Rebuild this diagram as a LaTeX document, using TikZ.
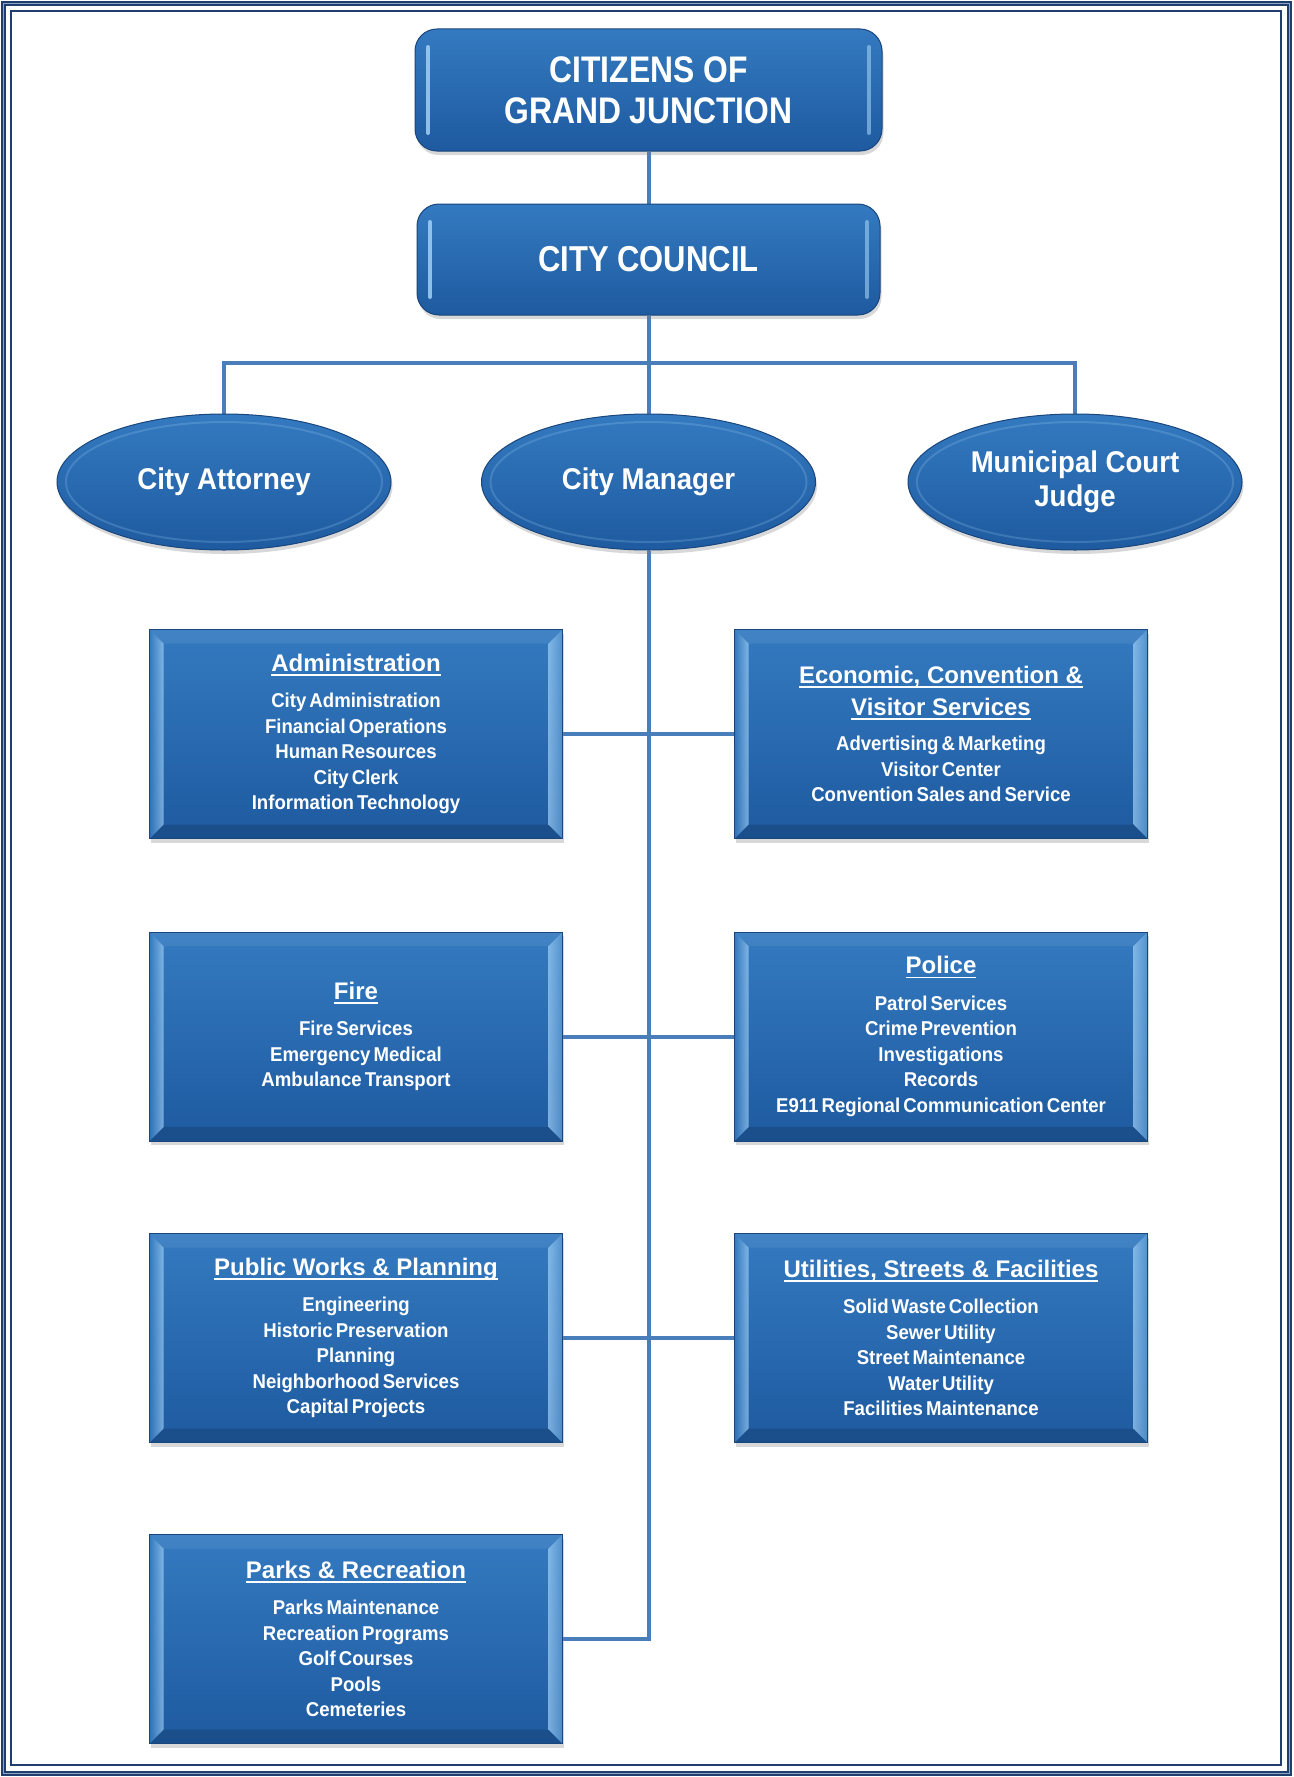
\documentclass[tikz,border=0pt]{standalone}
\usepackage{fontspec}
\setmainfont{Liberation Sans}
\newfontfamily\titlefont{Liberation Sans}[FakeStretch=0.86]
\newfontfamily\headfont{Liberation Sans}
\newfontfamily\ovalfont{Liberation Sans}[FakeStretch=0.92]
\newfontfamily\bodyfont{Liberation Sans}[FakeStretch=0.93,WordSpace=0.6]
\usetikzlibrary{shapes.geometric,shadows}
\pgfdeclarelayer{background}
\pgfsetlayers{background,main}
\definecolor{frameblue}{RGB}{31,62,110}
\definecolor{framelight}{RGB}{140,165,200}
\definecolor{boxtop}{RGB}{52,122,192}
\definecolor{boxbot}{RGB}{30,90,160}
\definecolor{boxedge}{RGB}{25,70,125}
\definecolor{bevlight}{RGB}{160,208,245}
\definecolor{linkblue}{RGB}{74,126,187}
\newsavebox\ulbox
\newcommand\ulhead[1]{\sbox\ulbox{#1}\rlap{\rule[-4.5pt]{\wd\ulbox}{1.8pt}}\usebox\ulbox}
\tikzset{
  conn/.style={draw=linkblue, line width=4pt},
  shadowed/.style={drop shadow={shadow xshift=1.5pt, shadow yshift=-4pt, opacity=0.3}},
  topbox/.style={rectangle, rounded corners=22pt, draw=boxedge, line width=1pt,
    top color=boxtop, bottom color=boxbot, text=white, align=center, inner sep=0pt,
    shadowed,
    font=\titlefont\bfseries\fontsize{37}{41}\selectfont,
    path picture={
      \draw[sharp corners, bevlight, line width=4pt, line cap=round, opacity=0.85]
        ([shift={(13pt,-18pt)}]path picture bounding box.north west) --
        ([shift={(13pt,18pt)}]path picture bounding box.south west);
      \draw[sharp corners, bevlight, line width=4pt, line cap=round, opacity=0.6]
        ([shift={(-13pt,-18pt)}]path picture bounding box.north east) --
        ([shift={(-13pt,18pt)}]path picture bounding box.south east);
    }},
  ovalbox/.style={ellipse, draw=boxedge, line width=1pt, minimum width=334pt, minimum height=136pt,
    top color=boxtop, bottom color=boxbot, text=white, align=center, inner sep=0pt,
    shadowed,
    font=\ovalfont\bfseries\fontsize{30}{34}\selectfont,
    path picture={
      \draw[bevlight, opacity=0.22, line width=2pt]
        (path picture bounding box.center) ellipse [x radius=158pt, y radius=60pt];
    }},
  deptbox/.style={rectangle, draw=boxedge, line width=1pt, minimum width=413pt, minimum height=209pt,
    top color=boxtop, bottom color=boxbot, text=white, align=center, inner sep=0pt,
    shadowed,
    font=\bodyfont\bfseries\fontsize{20}{25.5}\selectfont,
    path picture={
      \coordinate (pnw) at (path picture bounding box.north west);
      \coordinate (pne) at (path picture bounding box.north east);
      \coordinate (psw) at (path picture bounding box.south west);
      \coordinate (pse) at (path picture bounding box.south east);
      \fill[boxtop!85!white, opacity=0.45] (pnw) -- ([shift={(14pt,-14pt)}]pnw) -- ([shift={(-14pt,-14pt)}]pne) -- (pne) -- cycle;
      \fill[boxbot!75!black, opacity=0.5] (psw) -- ([shift={(14pt,14pt)}]psw) -- ([shift={(-14pt,14pt)}]pse) -- (pse) -- cycle;
      \shade[left color=boxtop, right color=bevlight, opacity=0.7] (pnw) -- ([shift={(14pt,-14pt)}]pnw) -- ([shift={(14pt,14pt)}]psw) -- (psw) -- cycle;
      \shade[left color=bevlight, right color=boxtop!60!bevlight, opacity=0.7] (pne) -- ([shift={(-14pt,-14pt)}]pne) -- ([shift={(-14pt,14pt)}]pse) -- (pse) -- cycle;
    }},
}
\begin{document}
\begin{tikzpicture}[x=1pt, y=-1pt]
\useasboundingbox (0,0) rectangle (1293,1777);
% frame
\draw[frameblue, line width=4.5pt] (3.5,3.5) rectangle (1289.5,1773.5);
\draw[framelight, line width=1.2pt] (3.5,3.5) rectangle (1289.5,1773.5);
\draw[frameblue, line width=2pt] (11,11) rectangle (1281,1765);

% top boxes
\node[topbox, minimum width=467pt, minimum height=122pt] (cit) at (648.5,90) {CITIZENS OF\\GRAND JUNCTION};
\node[topbox, minimum width=463pt, minimum height=111pt, font=\titlefont\bfseries\fontsize{36}{40}\selectfont] (coun) at (648.5,259.5) {CITY COUNCIL};

% ellipses
\node[ovalbox] (att) at (224,482) {City Attorney};
\node[ovalbox] (mgr) at (648.5,482) {City Manager};
\node[ovalbox] (jud) at (1075,482) {Municipal Court\\Judge};

% departments
\node[deptbox] (admin) at (356,734) {\ulhead{\headfont\fontsize{24}{28}\selectfont Administration}\\[11pt]
  City Administration\\ Financial Operations\\ Human Resources\\ City Clerk\\ Information Technology};
\node[deptbox] (econ) at (941,734) {\ulhead{\headfont\fontsize{24}{28}\selectfont Economic, Convention \&}\\[6pt]
  \ulhead{\headfont\fontsize{24}{28}\selectfont Visitor Services}\\[10pt]
  Advertising \& Marketing\\ Visitor Center\\ Convention Sales and Service};
\node[deptbox] (fire) at (356,1036.5) {\ulhead{\headfont\fontsize{24}{28}\selectfont Fire}\\[11pt]
  Fire Services\\ Emergency Medical\\ Ambulance Transport};
\node[deptbox] (police) at (941,1036.5) {\ulhead{\headfont\fontsize{24}{28}\selectfont Police}\\[11pt]
  Patrol Services\\ Crime Prevention\\ Investigations\\ Records\\ E911 Regional Communication Center};
\node[deptbox] (pw) at (356,1338) {\ulhead{\headfont\fontsize{24}{28}\selectfont Public Works \& Planning}\\[11pt]
  Engineering\\ Historic Preservation\\ Planning\\ Neighborhood Services\\ Capital Projects};
\node[deptbox] (util) at (941,1338) {\ulhead{\headfont\fontsize{24}{28}\selectfont Utilities, Streets \& Facilities}\\[11pt]
  Solid Waste Collection\\ Sewer Utility\\ Street Maintenance\\ Water Utility\\ Facilities Maintenance};
\node[deptbox] (parks) at (356,1639) {\ulhead{\headfont\fontsize{24}{28}\selectfont Parks \& Recreation}\\[11pt]
  Parks Maintenance\\ Recreation Programs\\ Golf Courses\\ Pools\\ Cemeteries};

% connectors
\begin{pgfonlayer}{background}
\fill[white] (12,12) rectangle (1280,1764);
\coordinate (bus) at (648.5,363);
\draw[conn] (cit.south) -- (coun.north);
\draw[conn] (coun.south) -- (mgr.north);
\draw[conn] (att.north) |- (bus) -| (jud.north);
\draw[conn] (mgr.south) |- (parks.east);
\draw[conn] (admin.east) -- (econ.west);
\draw[conn] (fire.east) -- (police.west);
\draw[conn] (pw.east) -- (util.west);
\end{pgfonlayer}
\end{tikzpicture}
\end{document}
